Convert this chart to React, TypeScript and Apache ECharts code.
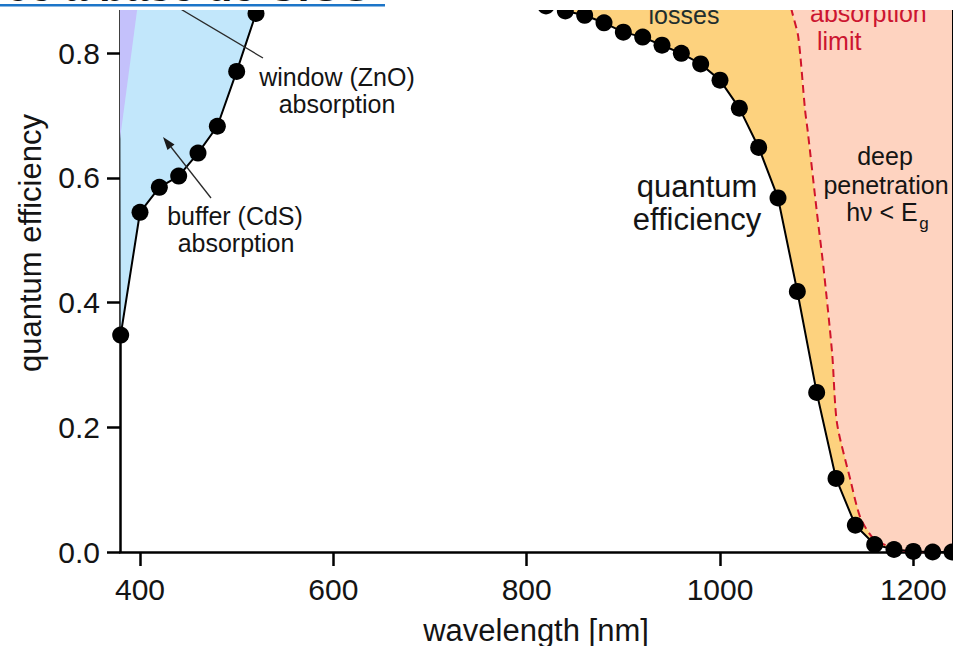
import React, { useEffect, useRef } from "react";
import * as echarts from "echarts";

// ---- data ----
const wavelengths = [
  380, 400, 420, 440, 460, 480, 500, 520, 540, 560, 580, 600, 620, 640, 660, 680, 700, 720, 740, 760, 780,
  800, 820, 840, 860, 880, 900, 920, 940, 960, 980, 1000, 1020, 1040, 1060, 1080, 1100, 1120, 1140, 1160,
  1180, 1200, 1220, 1240,
];
const quantumEfficiency = [
  0.348, 0.545, 0.585, 0.603, 0.64, 0.683, 0.771, 0.864, 0.9, 0.912, 0.918, 0.922, 0.924, 0.925, 0.925, 0.924,
  0.923, 0.921, 0.918, 0.912, 0.903, 0.892, 0.876, 0.868, 0.861, 0.849, 0.834, 0.826, 0.813, 0.8, 0.783, 0.757,
  0.712, 0.649, 0.568, 0.418, 0.256, 0.118, 0.043, 0.012, 0.004, 0.001, 0.0, 0.0,
];
// absorption limit (red dashed curve)
const limitWavelengths = [1065, 1074, 1081, 1088, 1091, 1100, 1107, 1116, 1121, 1135, 1145, 1158, 1176, 1200, 1240];
const limitEfficiency = [0.934, 0.87, 0.826, 0.709, 0.672, 0.548, 0.457, 0.319, 0.207, 0.115, 0.056, 0.023, 0.008, 0.0, 0.0];
// window (ZnO) wedge at the short-wavelength edge
const windowWavelengths = [379.3, 399.6, 379.3];
const windowEfficiency = [0.662, 0.9, 0.9];

const xTicks = [400, 600, 800, 1000, 1200];
const yTicks = [0, 0.2, 0.4, 0.6, 0.8];
const xMin = 379.3;
const xMax = 1240;
const yMax = 0.8695;
const regionTop = 1.0;
const bufferEnd = 540;
const collectionStart = 800;

const FONT = '"Liberation Sans", Arial, Helvetica, sans-serif';
const TEXT = "#141414";

function regionSeries(name: string, wl: number[], qe: number[], color: string, z: number) {
  return {
    type: "custom",
    name,
    z,
    silent: true,
    clip: false,
    data: [[wl[0], qe[0]]],
    renderItem: (_p: any, api: any) => ({
      type: "polygon",
      shape: { points: wl.map((w, i) => api.coord([w, qe[i]])) },
      style: { fill: color },
    }),
  };
}

function buildOption() {
  const qePairs = wavelengths.map((w, i) => [w, quantumEfficiency[i]]);
  const limitPairs = limitWavelengths.map((w, i) => [w, limitEfficiency[i]]);

  // buffer absorption region: between the curve and the top, short wavelengths
  const bWl: number[] = [];
  const bQe: number[] = [];
  wavelengths.forEach((w, i) => {
    if (w <= bufferEnd) {
      bWl.push(w);
      bQe.push(quantumEfficiency[i]);
    }
  });
  bWl.push(bufferEnd, xMin);
  bQe.push(regionTop, regionTop);

  // collection losses: between the curve and the absorption limit
  const oWl: number[] = [];
  const oQe: number[] = [];
  wavelengths.forEach((w, i) => {
    if (w >= collectionStart) {
      oWl.push(w);
      oQe.push(quantumEfficiency[i]);
    }
  });
  for (let i = limitWavelengths.length - 1; i >= 0; i--) {
    oWl.push(limitWavelengths[i]);
    oQe.push(limitEfficiency[i]);
  }
  oWl.push(limitWavelengths[0], collectionStart);
  oQe.push(regionTop, regionTop);

  // deep penetration: right of the absorption limit
  const pWl = [...limitWavelengths, xMax, limitWavelengths[0]];
  const pQe = [...limitEfficiency, regionTop, regionTop];

  const txt = (text: string, x: number, y: number, size: number, opts: any = {}) => ({
    type: "text",
    x,
    y,
    z: 100,
    rotation: opts.rotation || 0,
    style: {
      text,
      fill: opts.fill || TEXT,
      fontSize: size,
      lineHeight: opts.lineHeight || size,
      fontFamily: FONT,
      fontWeight: opts.bold ? "bold" : "normal",
      align: opts.align || "center",
      verticalAlign: "middle",
    },
  });

  return {
    animation: false,
    backgroundColor: "#ffffff",
    grid: { left: 120, top: 10, right: 1, bottom: 94, outerBoundsMode: "none", containLabel: false },
    xAxis: {
      type: "value",
      min: xMin,
      max: xMax,
      axisLine: { show: true, onZero: false, lineStyle: { color: "#000", width: 2.5 } },
      axisTick: { show: true, length: 14, customValues: xTicks, lineStyle: { color: "#000", width: 2.5 } },
      axisLabel: {
        customValues: xTicks,
        margin: 22,
        fontSize: 30,
        fontFamily: FONT,
        color: TEXT,
        formatter: (v: number) => String(Math.round(v)),
      },
      splitLine: { show: false },
    },
    yAxis: [
      {
        type: "value",
        min: 0,
        max: yMax,
        axisLine: { show: true, lineStyle: { color: "#000", width: 2.5 } },
        axisTick: { show: true, length: 13, customValues: yTicks, lineStyle: { color: "#000", width: 2.5 } },
        axisLabel: {
          customValues: yTicks,
          margin: 20,
          fontSize: 30,
          fontFamily: FONT,
          color: TEXT,
          formatter: (v: number) => v.toFixed(1),
        },
        splitLine: { show: false },
      },
      {
        type: "value",
        position: "right",
        min: 0,
        max: yMax,
        axisLine: { show: true, lineStyle: { color: "#000", width: 2 } },
        axisTick: { show: false },
        axisLabel: { show: false },
        splitLine: { show: false },
      },
    ],
    series: [
      regionSeries("buffer (CdS) absorption", bWl, bQe, "#c2e7fb", 1),
      regionSeries("window (ZnO) absorption", windowWavelengths, windowEfficiency, "#c4c1fb", 2),
      regionSeries("deep penetration", pWl, pQe, "#fed3c0", 1),
      regionSeries("collection losses", oWl, oQe, "#fdd27e", 1),
      {
        type: "line",
        name: "absorption limit",
        z: 5,
        data: limitPairs,
        symbol: "none",
        smooth: 0.25,
        clip: false,
        silent: true,
        lineStyle: { color: "#d0142c", width: 2, type: [8, 5] },
      },
      {
        type: "line",
        name: "quantum efficiency",
        z: 6,
        data: qePairs,
        symbol: "circle",
        symbolSize: 17,
        clip: false,
        silent: true,
        itemStyle: { color: "#000" },
        lineStyle: { color: "#000", width: 2 },
      },
    ],
    graphic: [
      // arrows
      { type: "line", z: 90, shape: { x1: 263, y1: 58, x2: 157, y2: -5 }, style: { stroke: "#2a2a2a", lineWidth: 1.3 } },
      { type: "line", z: 90, shape: { x1: 211, y1: 198, x2: 171, y2: 147 }, style: { stroke: "#2a2a2a", lineWidth: 1.3 } },
      {
        type: "polygon",
        z: 90,
        shape: { points: [[163, 137], [174.5, 144.4], [167.5, 150]] },
        style: { fill: "#1a1a1a" },
      },
      // annotations
      txt("window (ZnO)", 337, 77, 25),
      txt("absorption", 337, 104, 25),
      txt("buffer (CdS)", 235, 216, 25),
      txt("absorption", 236, 243, 25),
      txt("quantum", 697, 186, 31),
      txt("efficiency", 697, 219, 31),
      txt("deep", 885, 156, 25, { lineHeight: 24 }),
      txt("penetration", 886, 185, 25, { lineHeight: 24 }),
      txt("hν < E", 882, 212, 25, { lineHeight: 24 }),
      txt("g", 924, 223, 17),
      txt("losses", 684, 15, 25, { fill: "#1e2e2e" }),
      txt("absorption", 810, 13, 25, { fill: "#cc1530", align: "left" }),
      txt("limit", 817, 41, 25, { fill: "#cc1530", align: "left" }),
      // axis titles
      txt("quantum efficiency", 30, 243, 31, { rotation: Math.PI / 2 }),
      txt("wavelength [nm]", 536, 630, 31),
      // cropped top band with the page title
      { type: "rect", z: 110, shape: { x: 0, y: 0, width: 953, height: 10 }, style: { fill: "#ffffff" } },
      { type: "rect", z: 111, shape: { x: 0, y: 4, width: 385, height: 2.6 }, style: { fill: "#1c75c8" } },
      {
        type: "text",
        z: 112,
        x: 370,
        y: -14,
        style: {
          text: "ce à base de CIGS",
          fill: "#111",
          fontSize: 42,
          fontWeight: "bold",
          fontFamily: FONT,
          align: "right",
          verticalAlign: "middle",
        },
      },
    ],
  };
}

export default function App() {
  const ref = useRef<HTMLDivElement>(null);
  useEffect(() => {
    if (!ref.current) return;
    const chart = echarts.init(ref.current, null, { renderer: "svg" });
    chart.setOption(buildOption() as any);
    return () => chart.dispose();
  }, []);
  return (
    <div
      ref={ref}
      style={{ position: "fixed", left: 0, top: 0, width: 953, height: 646, background: "#ffffff" }}
    />
  );
}
